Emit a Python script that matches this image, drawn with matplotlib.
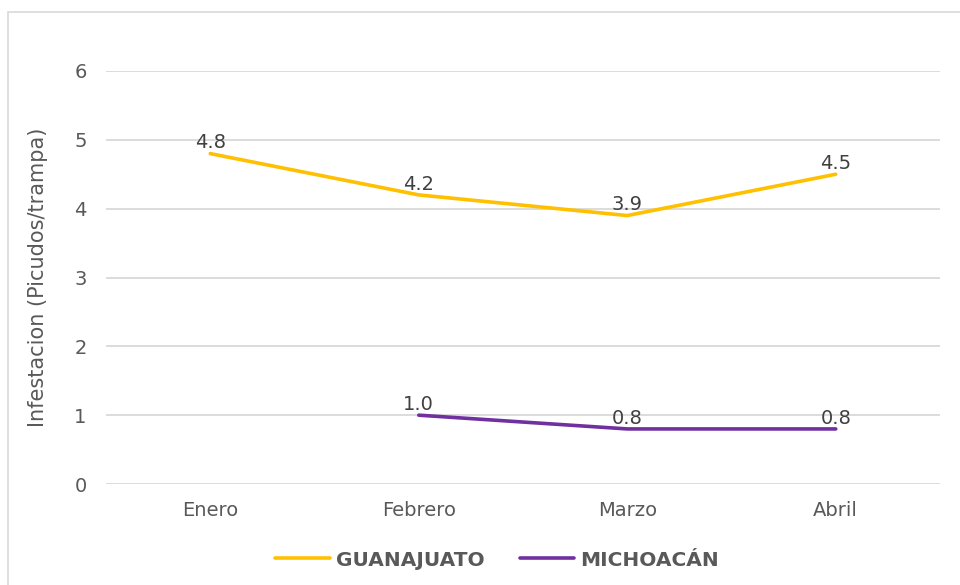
import matplotlib
matplotlib.use("Agg")
import matplotlib.pyplot as plt
import numpy as np
from matplotlib.patches import Rectangle

meses = ["Enero", "Febrero", "Marzo", "Abril"]
guanajuato = [4.8, 4.2, 3.9, 4.5]
michoacan = [np.nan, 1.0, 0.8, 0.8]
series = [("GUANAJUATO", guanajuato, "#FFC000"), ("MICHOACÁN", michoacan, "#7030A0")]

TXT = "#595959"
plt.rcParams["font.family"] = ["DejaVu Sans"]

fig = plt.figure(figsize=(9.6, 5.85), dpi=100)
ax = fig.add_axes([106 / 960, 1 - 484 / 585, 834 / 960, 413 / 585])

x = np.arange(len(meses))
for name, vals, col in series:
    ax.plot(x, vals, "-", color=col, lw=2.6, label=name, solid_capstyle="round", zorder=3)
    for xi, v in zip(x, vals):
        if not np.isnan(v):
            ax.annotate(f"{v:.1f}", (xi, v), xytext=(0, 1), textcoords="offset points",
                        ha="center", va="bottom", fontsize=14, color="#404040", zorder=4)

ax.set_xlim(-0.5, len(meses) - 0.5)
ax.set_ylim(0, 6)
ax.set_yticks(range(0, 7))
ax.set_xticks(x)
ax.set_xticklabels(meses)
ax.tick_params(axis="both", length=0, labelsize=14, labelcolor=TXT)
ax.tick_params(axis="y", pad=14)
ax.tick_params(axis="x", pad=12)
ax.grid(axis="y", color="#D9D9D9", lw=1.3)
ax.set_axisbelow(True)
for s in ax.spines.values():
    s.set_visible(False)
ax.set_ylabel("Infestacion (Picudos/trampa)", fontsize=15, color=TXT)
ax.yaxis.set_label_coords(-58 / 834, 0.5)

leg = fig.legend(loc="center", bbox_to_anchor=(497 / 960, 1 - 560 / 585), ncol=2,
                 frameon=False, handlelength=2.7, columnspacing=1.75, handletextpad=0.3,
                 prop={"weight": "bold", "size": 14.5})
for t in leg.get_texts():
    t.set_color(TXT)

fig.patches.append(Rectangle((8 / 960, -0.1), 1.2, 1.1 - 12 / 585, transform=fig.transFigure,
                             fill=False, edgecolor="#D9D9D9", lw=1.2, zorder=0))

fig.savefig("out.png", dpi=100)
